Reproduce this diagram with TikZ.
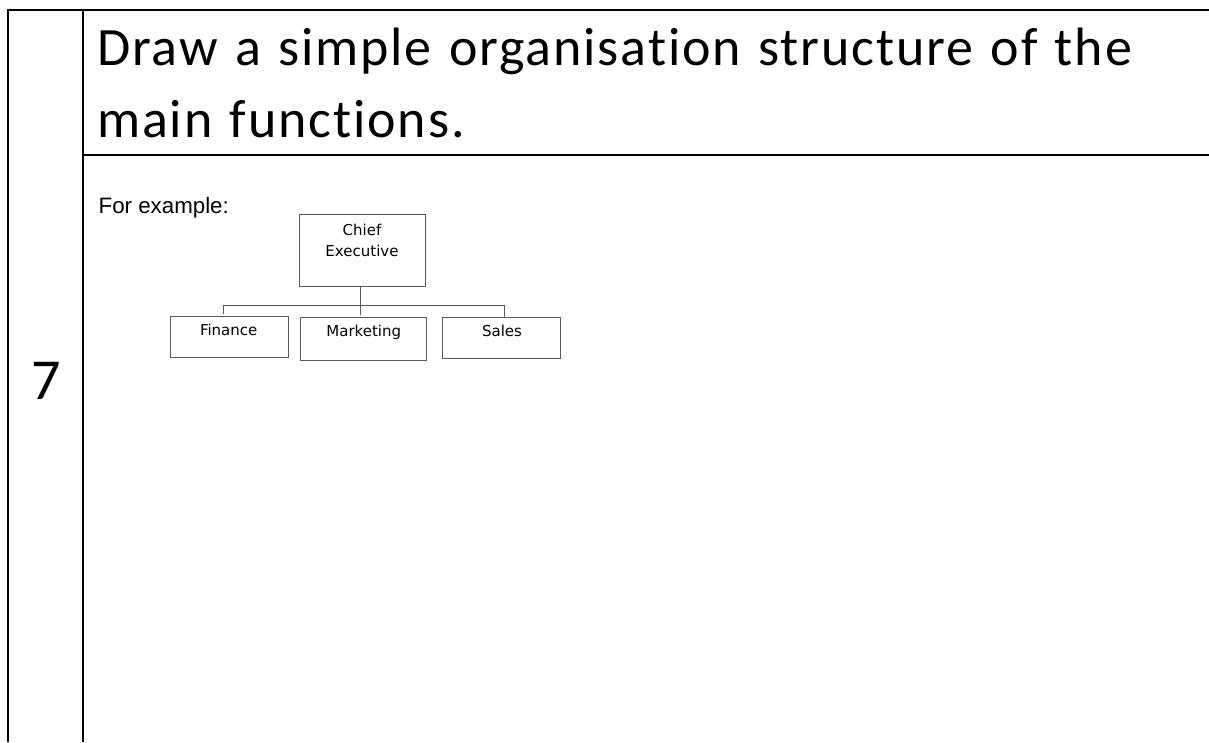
\documentclass[tikz,border=0pt]{standalone}
\usepackage{fontspec}
\setmainfont{Carlito}[Ligatures=NoCommon]
\newfontfamily\titlefont{Carlito}[Ligatures=NoCommon, LetterSpace=3.5, WordSpace=1.22]
\newfontfamily\arialfont{Liberation Sans}
\newfontfamily\boxfont{DejaVu Sans}
\usetikzlibrary{calc}
\begin{document}
\begin{tikzpicture}[x=1pt,y=-1pt,
  tableline/.style={line width=2pt, black},
  orgbox/.style={draw=black!65, line width=1pt, fill=white, inner sep=0pt, rectangle},
  orgline/.style={draw=black!65, line width=1pt},
  orgtext/.style={anchor=base, inner sep=0pt, font=\boxfont\fontsize{15}{18}\selectfont},
  bigtext/.style={anchor=base west, inner sep=0pt, font=\titlefont\fontsize{54}{72}\selectfont}
]
\useasboundingbox (0,0) rectangle (1209,742);
% table lines
\coordinate (tl) at (8,10);
\coordinate (tr) at (1209,10);
\coordinate (bl) at (8,742);
\coordinate (ml) at (83,10);
\coordinate (mb) at (83,742);
\coordinate (dl) at (83,155);
\coordinate (dr) at (1209,155);
\draw[tableline] (bl) -- (tl) -- (tr);
\draw[tableline] (ml) -- (mb);
\draw[tableline] (dl) -- (dr);
% texts
\node[bigtext] (t1) at (97,65) {Draw a simple organisation structure of the};
\node[bigtext] (t2) at (97,137) {main functions.};
\node[anchor=base west, inner sep=0pt, font=\fontsize{58}{70}\selectfont] (num) at (31,399) {7};
\node[anchor=base west, inner sep=0pt, font=\arialfont\fontsize{22.3}{26}\selectfont] (ex) at (98.5,213.3) {For example:};
% boxes
\node[orgbox, minimum width=125.6pt, minimum height=71.7pt] (ceo) at (362.5,250.2) {};
\node[orgbox, minimum width=118.7pt, minimum height=41pt] (fin) at (229.4,337.2) {};
\node[orgbox, minimum width=125.3pt, minimum height=43pt] (mkt) at (363.4,339.2) {};
\node[orgbox, minimum width=118pt, minimum height=40.6pt] (sal) at (501.7,338) {};
\node[orgtext] at (362,235) {Chief};
\node[orgtext] at (362,256.7) {Executive};
\node[orgtext] at (228.7,335.7) {Finance};
\node[orgtext] at (363.8,336.7) {Marketing};
\node[orgtext] at (502,336.7) {Sales};
% connectors
\coordinate (hl) at (223.3,305);
\coordinate (hr) at (504,305);
\draw[orgline] (ceo.south -| 360.7,0) -- (360.7,315);
\draw[orgline] (hl) -- (hr);
\draw[orgline] (hl) -- (223.3,314.3);
\draw[orgline] (hr) -- (sal.north -| hr);
\end{tikzpicture}
\end{document}
